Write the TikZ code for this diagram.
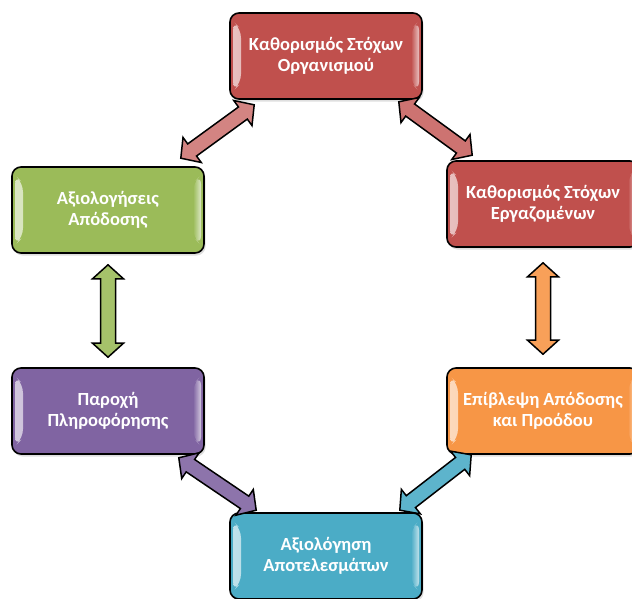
\documentclass[tikz,border=0pt]{standalone}
\usepackage{fontspec}
\setmainfont{Carlito}
\usetikzlibrary{calc,shadows}

\definecolor{boxred}{HTML}{C0504D}
\definecolor{boxgreen}{HTML}{9BBB59}
\definecolor{boxpurple}{HTML}{8064A2}
\definecolor{boxorange}{HTML}{F79646}
\definecolor{boxcyan}{HTML}{4BACC6}

\newcommand{\headlen}{14pt}
\newcommand{\shaftw}{7.5pt}
\newcommand{\headw}{15.5pt}
% double headed block arrow between two named points
\newcommand{\linkarrow}[3]{%
  \draw[link, fill=#3]
    (#1) -- ($(#1)!\headlen!(#2)!\headw!90:(#2)$)
    -- ($(#1)!\headlen!(#2)!\shaftw!90:(#2)$)
    -- ($(#2)!\headlen!(#1)!\shaftw!-90:(#1)$)
    -- ($(#2)!\headlen!(#1)!\headw!-90:(#1)$)
    -- (#2)
    -- ($(#2)!\headlen!(#1)!\headw!90:(#1)$)
    -- ($(#2)!\headlen!(#1)!\shaftw!90:(#1)$)
    -- ($(#1)!\headlen!(#2)!\shaftw!-90:(#2)$)
    -- ($(#1)!\headlen!(#2)!\headw!-90:(#2)$)
    -- cycle;}

\begin{document}
\begin{tikzpicture}[
  x=1pt, y=-1pt,
  box/.style={draw=black, line width=1.6pt, rounded corners=9pt, fill=#1,
    minimum width=192pt, minimum height=86pt, align=center, text=white,
    font=\fontsize{18.5}{21}\selectfont\bfseries,
    drop shadow={shadow xshift=1.5pt, shadow yshift=-2.5pt, opacity=.25},
    path picture={
      \shade[left color=white!65!#1, right color=#1]
        ([xshift=3pt,yshift=-8pt]path picture bounding box.north west) -- ++(8pt,-8pt)
        -- ([xshift=11pt,yshift=16pt]path picture bounding box.south west) -- ++(-8pt,-8pt) -- cycle;
      \shade[left color=#1, right color=white!65!#1]
        ([xshift=-3pt,yshift=-8pt]path picture bounding box.north east) -- ++(-8pt,-8pt)
        -- ([xshift=-11pt,yshift=16pt]path picture bounding box.south east) -- ++(8pt,-8pt) -- cycle;
    }},
  link/.style={draw=black, line width=1.5pt, line join=miter}
]
\useasboundingbox (0,0) rectangle (632,598);

\node[box=boxred] (org) at (326,56) {Καθορισμός Στόχων\\Οργανισμού};
\node[box=boxred] (emp) at (543,204) {Καθορισμός Στόχων\\Εργαζομένων};
\node[box=boxgreen] (eval) at (108,210) {Αξιολογήσεις\\Απόδοσης};
\node[box=boxpurple] (info) at (108,411) {Παροχή\\Πληροφόρησης};
\node[box=boxorange] (prog) at (543,411) {Επίβλεψη Απόδοσης\\και Προόδου};
\node[box=boxcyan] (res) at (326,556) {Αξιολόγηση\\Αποτελεσμάτων};

\coordinate (a1) at ([shift={(-24,-8)}]eval.north east);
\coordinate (a2) at ([shift={(25,5)}]org.south west);
\coordinate (b1) at ([shift={(-24,2)}]org.south east);
\coordinate (b2) at ([shift={(26,-5)}]emp.north west);
\coordinate (c1) at ([shift={(0,11)}]eval.south);
\coordinate (c2) at ([shift={(0,-10)}]info.north);
\coordinate (d1) at ([shift={(0,15)}]emp.south);
\coordinate (d2) at ([shift={(0,-13)}]prog.north);
\coordinate (e1) at ([shift={(-26,3)}]info.south east);
\coordinate (e2) at ([shift={(27,-2)}]res.north west);
\coordinate (f1) at ([shift={(25,0)}]prog.south west);
\coordinate (f2) at ([shift={(-23,-2)}]res.north east);

\linkarrow{a1}{a2}{boxred!70!white}
\linkarrow{b1}{b2}{boxred!80!white}
\linkarrow{c1}{c2}{boxgreen!90!white}
\linkarrow{d1}{d2}{boxorange!90!white}
\linkarrow{e1}{e2}{boxpurple!90!white}
\linkarrow{f1}{f2}{boxcyan!90!white}
\end{tikzpicture}
\end{document}
